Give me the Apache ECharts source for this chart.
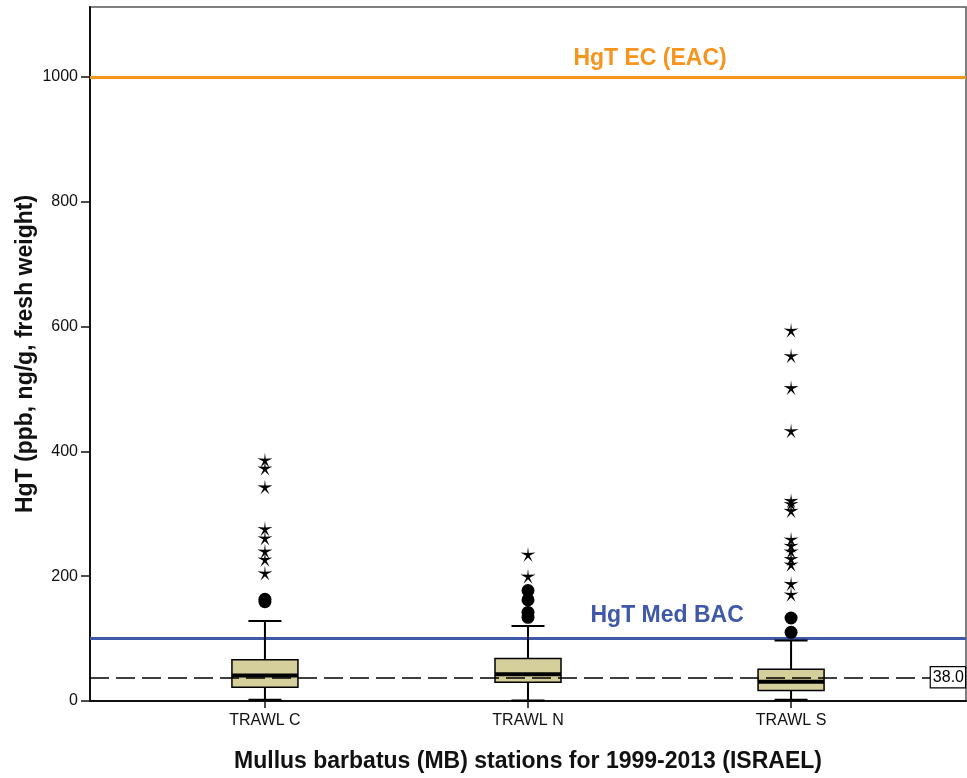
<!DOCTYPE html>
<html>
<head>
<meta charset="utf-8">
<script src="https://cdn.jsdelivr.net/npm/echarts@6/dist/echarts.min.js"></script>
<style>html,body{margin:0;padding:0;background:#fff;overflow:hidden}#c{width:967px;height:778px}</style>
</head>
<body>
<div id="c"></div>
<script>
// ---- data ----
var categories = ['TRAWL C', 'TRAWL N', 'TRAWL S'];
// [min whisker, Q1, median, Q3, max whisker]
var boxC = [2, 22, 41, 66, 128];
var boxN = [1, 30, 43, 68, 120];
var boxS = [2, 17, 31, 51, 97];
// outliers (circles = mild, stars = extreme)
var circlesC = [163, 159];
var circlesN = [177, 162, 142, 134];
var circlesS = [133, 110];
var starsC = [386, 373, 343, 276, 261, 240, 227, 205];
var starsN = [235, 200];
var starsS = [594, 553, 502, 433, 321, 316, 305, 259, 249, 240, 228, 219, 188, 171];
var yTicks = [0, 200, 400, 600, 800, 1000];
var eacValue = 1000;
var bacValue = 100;
var refValue = 38.0;
var eacLabel = 'HgT EC (EAC)';
var bacLabel = 'HgT Med BAC';
var yTitle = 'HgT (ppb, ng/g, fresh weight)';
var xTitle = 'Mullus barbatus (MB) stations for 1999-2013 (ISRAEL)';

var boxes = [boxC, boxN, boxS];
var boxData = boxes.map(function (b, i) { return [i].concat(b); });
function pts(arrs) {
  var out = [];
  arrs.forEach(function (a, i) { a.forEach(function (v) { out.push([i, v]); }); });
  return out;
}
var circleData = pts([circlesC, circlesN, circlesS]);
var starData = pts([starsC, starsN, starsS]);

var starPath = 'path://M50,0 L55,41 L100,38 L61,60 L80,100 L50,71 L20,100 L39,60 L0,38 L45,41 Z';
var font = 'Arial, "Liberation Sans", sans-serif';

var chart = echarts.init(document.getElementById('c'), null, {renderer: 'canvas', width: 967, height: 778});
chart.setOption({
  animation: false,
  backgroundColor: '#fff',
  grid: {left: 90, top: 7, width: 876, height: 697, show: true, borderColor: '#555', borderWidth: 1.5, containLabel: false},
  xAxis: {
    type: 'value', min: -0.665, max: 2.665, interval: 1,
    splitLine: {show: false},
    axisLine: {show: true, onZero: false, lineStyle: {color: '#111', width: 2}},
    axisTick: {show: true, length: 7, customValues: [0, 1, 2], lineStyle: {color: '#111', width: 1.5}},
    axisLabel: {show: true, customValues: [0, 1, 2], margin: 12, fontFamily: font, fontSize: 16, color: '#111',
      formatter: function (v) { return categories[Math.round(v)] || ''; }},
    name: xTitle, nameLocation: 'middle', nameGap: 49, nameMoveOverlap: false,
    nameTextStyle: {fontFamily: font, fontSize: 23, fontWeight: 'bold', color: '#111'}
  },
  yAxis: {
    type: 'value', min: 0, max: 1112, interval: 200,
    splitLine: {show: false},
    axisLine: {show: true, onZero: false, lineStyle: {color: '#111', width: 2}},
    axisTick: {show: true, length: 9, customValues: yTicks, lineStyle: {color: '#111', width: 1.5}},
    axisLabel: {customValues: yTicks, margin: 12, fontFamily: font, fontSize: 16, color: '#111',
      formatter: function (v) { return String(v); }},
    name: yTitle, nameLocation: 'middle', nameGap: 53, nameRotate: 90, nameMoveOverlap: false,
    nameTextStyle: {fontFamily: font, fontSize: 23, fontWeight: 'bold', color: '#111'}
  },
  series: [
    {
      type: 'line', data: [], silent: true,
      markLine: {
        symbol: 'none', silent: true, z: 1,
        data: [
          {yAxis: eacValue, lineStyle: {color: '#F7941D', width: 3, type: 'solid', opacity: 1}, label: {show: false}},
          {yAxis: bacValue, lineStyle: {color: '#3F58A8', width: 3, type: 'solid', opacity: 1}, label: {show: false}}
        ]
      }
    },
    {
      type: 'custom', z: 3,
      data: boxData,
      renderItem: function (params, api) {
        var x = api.value(0);
        var lo = api.coord([x, api.value(1)]);
        var q1 = api.coord([x, api.value(2)]);
        var med = api.coord([x, api.value(3)]);
        var q3 = api.coord([x, api.value(4)]);
        var hi = api.coord([x, api.value(5)]);
        var w = api.size([0.251, 0])[0];
        var cx = lo[0];
        var half = w / 2, capHalf = w / 4;
        return {
          type: 'group',
          children: [
            {type: 'line', shape: {x1: cx, y1: q3[1], x2: cx, y2: hi[1]}, style: {stroke: '#000', lineWidth: 2}},
            {type: 'line', shape: {x1: cx, y1: q1[1], x2: cx, y2: lo[1]}, style: {stroke: '#000', lineWidth: 2}},
            {type: 'line', shape: {x1: cx - capHalf, y1: hi[1], x2: cx + capHalf, y2: hi[1]}, style: {stroke: '#000', lineWidth: 2}},
            {type: 'line', shape: {x1: cx - capHalf, y1: lo[1], x2: cx + capHalf, y2: lo[1]}, style: {stroke: '#000', lineWidth: 2}},
            {type: 'rect', shape: {x: cx - half, y: q3[1], width: w, height: q1[1] - q3[1]}, style: {fill: '#D4CF9B', stroke: '#000', lineWidth: 1.5}},
            {type: 'line', shape: {x1: cx - half, y1: med[1], x2: cx + half, y2: med[1]}, style: {stroke: '#000', lineWidth: 4}}
          ]
        };
      }
    },
    {
      type: 'line', data: [], silent: true, z: 4,
      markLine: {
        symbol: 'none', silent: true,
        data: [{
          yAxis: refValue,
          lineStyle: {color: '#000', width: 1.5, type: [19, 7], opacity: 1},
          label: {show: true, position: 'insideEnd', distance: 1, formatter: function () { return refValue.toFixed(1); },
            fontFamily: font, fontSize: 16, color: '#000', backgroundColor: '#fff', borderColor: '#000', borderWidth: 1.2, padding: [3, 1, 1, 2]}
        }]
      }
    },
    {
      type: 'scatter', z: 5, data: circleData, symbol: 'circle', symbolSize: 13,
      itemStyle: {color: '#000', opacity: 1}
    },
    {
      type: 'scatter', z: 5, data: starData, symbol: starPath, symbolSize: 15,
      itemStyle: {color: '#000', opacity: 1}
    },
    {
      type: 'scatter', z: 6, symbolSize: 1, silent: true,
      itemStyle: {opacity: 0},
      data: [
        {value: [1.464, 1030], label: {formatter: eacLabel, color: '#F7941D'}},
        {value: [1.529, 136], label: {formatter: bacLabel, color: '#3F58A8'}}
      ],
      label: {show: true, position: 'inside', fontFamily: font, fontSize: 23, fontWeight: 'bold', opacity: 1}
    }
  ]
});
</script>
</body>
</html>
